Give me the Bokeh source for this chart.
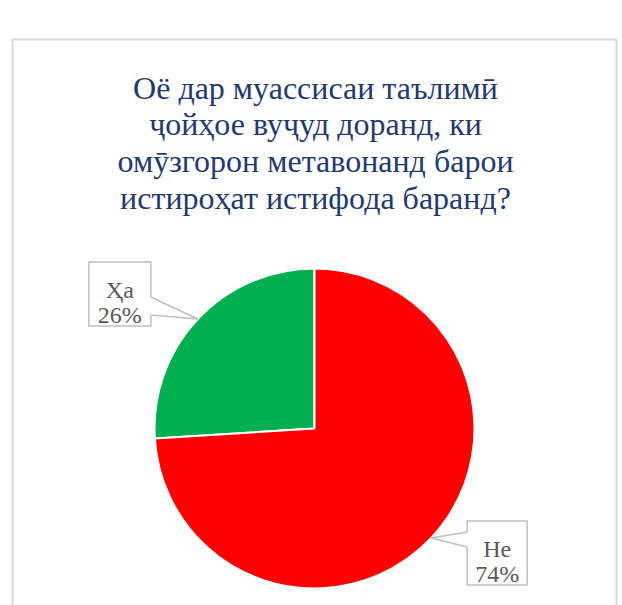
import math
from bokeh.plotting import figure
from bokeh.models import Range1d
from bokeh.core.properties import value
from bokeh.embed import file_html
from bokeh.resources import INLINE

title_lines = ["Оё дар муассисаи таълимӣ", "ҷойҳое вуҷуд доранд, ки",
               "омӯзгорон метавонанд барои", "истироҳат истифода баранд?"]
categories = ["Ҳа", "Не"]
values = [26, 74]
colors = ["#00b050", "#ff0000"]

W, H = 622, 605
# data coordinates: x = screen x, y = H - screen y
def sy(y):
    return H - y

p = figure(width=W, height=H, output_backend="svg", toolbar_location=None,
           x_range=Range1d(0, W), y_range=Range1d(0, H), min_border=0)
p.axis.visible = False
p.grid.visible = False
p.outline_line_color = None
p.background_fill_color = "white"
p.border_fill_color = "white"

# chart border
p.line([12, 12, 616, 616], [sy(620), sy(39), sy(39), sy(620)], line_color="#d9d9d9", line_width=2)

# title
font = value("Liberation Serif")
for i, t in enumerate(title_lines):
    p.text(x=[315], y=[sy(87 + i * 36.7)], text=[t], text_font=font, text_font_size="32px",
           text_color="#1f3a70", text_align="center", text_baseline="alphabetic")

# pie
cx, cy, r = 314, sy(428), 160
total = sum(values)
start = math.pi / 2
starts, ends, mids = [], [], []
a = start
for v in values:
    sweep = 2 * math.pi * v / total
    starts.append(a)
    ends.append(a + sweep)
    mids.append(a + sweep / 2)
    a += sweep
# Ҳа goes anticlockwise from the top, Не follows
p.wedge(x=[cx] * len(values), y=[cy] * len(values), radius=r, start_angle=starts, end_angle=ends,
        direction="anticlock", fill_color=colors, line_color="white", line_width=2)

# callouts
box_offsets = [(-109, -57, 62, 64), (36, -17, 60, 64)]  # (box left - tip x, box top - tip y(screen), w, h)
for cat, v, m, (ox, oy, bw, bh) in zip(categories, values, mids, box_offsets):
    tx = cx + r * math.cos(m)
    ty_s = H - (cy + r * math.sin(m))  # screen y of tip
    bl, bt = tx + ox, ty_s + oy
    br, bb = bl + bw, bt + bh
    if ox < 0:
        # pointer on right edge
        xs = [bl, br, br, tx, br, br, bl]
        ys = [bt, bt, bt + 35, ty_s, bt + 53, bb, bb]
    else:
        xs = [bl, br, br, bl, bl, tx, bl]
        ys = [bt, bt, bb, bb, bt + 26, ty_s, bt + 11]
    p.patch(xs, [sy(y) for y in ys], fill_color="white", line_color="#bfbfbf", line_width=1.5)
    pct = f"{round(100 * v / total)}%"
    p.text(x=[(bl + br) / 2] * 2, y=[sy(bt + 28), sy(bt + 53)], text=[cat, pct], text_font=font,
           text_font_size="24px", text_color="#595959", text_align="center", text_baseline="alphabetic")

open("out.html", "w").write(file_html(p, INLINE))
